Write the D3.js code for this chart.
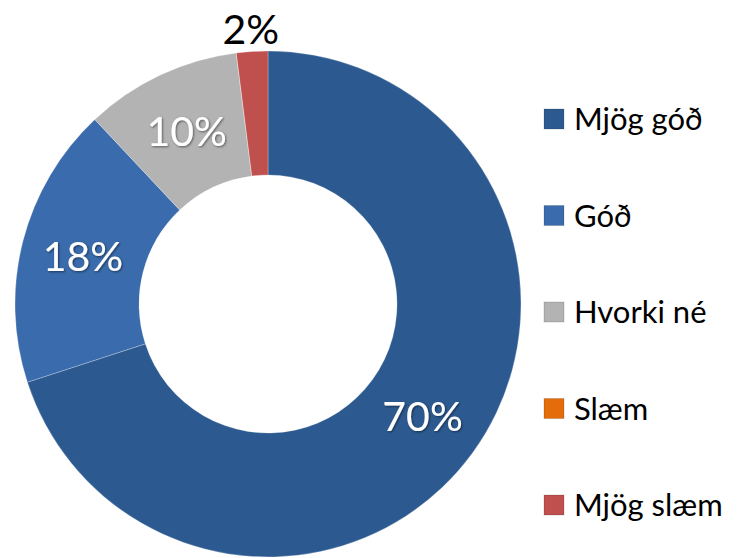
<!DOCTYPE html>
<html>
<head>
<meta charset="utf-8">
<script src="https://cdn.jsdelivr.net/npm/d3@7"></script>
<style>
  body { margin: 0; background: #fff; }
  text { font-family: Lato, "Open Sans", sans-serif; }
</style>
</head>
<body>
<script>
// data
var categories = ["Mjög góð", "Góð", "Hvorki né", "Slæm", "Mjög slæm"];
var values = [70, 18, 10, 0, 2];
var labels = ["70%", "18%", "10%", "", "2%"];
var colors = ["#2c5a90", "#3a6bac", "#b3b3b3", "#e46c0a", "#c0504d"];

var svgWidth = 745;
var svgHeight = 558;

var cx = 268, cy = 304;
var outerR = 253, innerR = 129;

var svg = d3.select("body").append("svg")
    .attr("width", svgWidth)
    .attr("height", svgHeight);

var defs = svg.append("defs");
var shadow = defs.append("filter").attr("id", "txtshadow");
shadow.append("feDropShadow")
    .attr("dx", 1).attr("dy", 1).attr("stdDeviation", 0.8)
    .attr("flood-color", "#000").attr("flood-opacity", 0.5);

var pie = d3.pie().sort(null).value(d => d);
var arcs = pie(values);

var arc = d3.arc().innerRadius(innerR).outerRadius(outerR);
var labelArc = d3.arc().innerRadius(innerR).outerRadius(outerR);
var outsideArc = d3.arc().innerRadius(outerR + 22).outerRadius(outerR + 22);

var chartGroup = svg.append("g")
    .attr("transform", `translate(${cx}, ${cy})`);

chartGroup.selectAll("path")
    .data(arcs)
    .enter()
    .append("path")
    .attr("d", arc)
    .attr("fill", (d, i) => colors[i])
    .attr("stroke", "rgba(255,255,255,0.25)")
    .attr("stroke-width", 1);

// data labels (small slice goes outside in black)
chartGroup.selectAll(".dlabel")
    .data(arcs)
    .enter()
    .append("text")
    .attr("class", "dlabel")
    .attr("transform", function (d) {
        var p = (d.endAngle - d.startAngle) < 0.3 ? outsideArc.centroid(d) : labelArc.centroid(d);
        return `translate(${p[0]}, ${p[1]})`;
    })
    .attr("text-anchor", "middle")
    .attr("dy", "0.36em")
    .attr("font-size", 41)
    .attr("fill", d => (d.endAngle - d.startAngle) < 0.3 ? "#000" : "#fff")
    .attr("filter", d => (d.endAngle - d.startAngle) < 0.3 ? null : "url(#txtshadow)")
    .text((d, i) => labels[i]);

// legend
var legendY = d3.scalePoint()
    .domain(categories)
    .range([119, 505]);

var legend = svg.append("g");
var rows = legend.selectAll("g")
    .data(categories)
    .enter()
    .append("g")
    .attr("transform", d => `translate(544, ${legendY(d)})`);

rows.append("rect")
    .attr("x", 0)
    .attr("y", -10)
    .attr("width", 20)
    .attr("height", 20)
    .attr("fill", (d, i) => colors[i])
    .attr("stroke", "rgba(0,0,0,0.15)");

rows.append("text")
    .attr("x", 30)
    .attr("dy", "0.36em")
    .attr("font-size", 31)
    .attr("fill", "#000")
    .text(d => d);
</script>
</body>
</html>
